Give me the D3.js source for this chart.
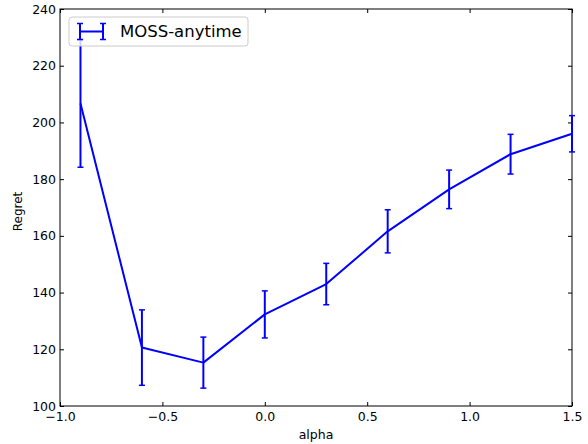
<!DOCTYPE html>
<html>
<head>
<meta charset="utf-8">
<script src="https://cdn.jsdelivr.net/npm/d3@7"></script>
<style>
  body { margin: 0; background: #fff; }
  text { font-family: "DejaVu Sans", sans-serif; fill: #000; }
</style>
</head>
<body>
<script>
//data
const alphas = [-0.9, -0.6, -0.3, 0.0, 0.3, 0.6, 0.9, 1.2, 1.5]
const regret = [206.7, 120.6, 115.3, 132.3, 143.0, 161.6, 176.4, 188.8, 196.0]
const regretErr = [22.5, 13.3, 9.0, 8.3, 7.3, 7.6, 6.8, 7.0, 6.4]
const xTicks = [-1.0, -0.5, 0.0, 0.5, 1.0, 1.5]
const yTicks = [100, 120, 140, 160, 180, 200, 220, 240]
const seriesName = 'MOSS-anytime'

const data = alphas.map((a, i) => ({ a, v: regret[i], e: regretErr[i] }))

const width = 588
const height = 444
const margin = { top: 9, right: 16, bottom: 38, left: 60 }
const innerWidth = width - margin.left - margin.right
const innerHeight = height - margin.top - margin.bottom
const blue = '#0000ff'

const svg = d3.select('body').append('svg')
  .attr('width', width)
  .attr('height', height)

const g = svg.append('g')
  .attr('transform', `translate(${margin.left},${margin.top})`)

//=================SCALES===================
const xScale = d3.scaleLinear().domain([-1.0, 1.5]).range([0, innerWidth])
const yScale = d3.scaleLinear().domain([100, 240]).range([innerHeight, 0])

//matplotlib style minus sign
const fmtX = d => d3.format('.1f')(d).replace('-', '\u2212')

//================= AXES (ticks inside, all four sides) =====================
const tickLen = 4
const xAxisB = d3.axisBottom(xScale).tickValues(xTicks).tickFormat(fmtX)
  .tickSizeInner(-tickLen).tickSizeOuter(0).tickPadding(6)
const xAxisT = d3.axisTop(xScale).tickValues(xTicks)
  .tickSizeInner(-tickLen).tickSizeOuter(0)
const yAxisL = d3.axisLeft(yScale).tickValues(yTicks).tickFormat(d3.format('d'))
  .tickSizeInner(-tickLen).tickSizeOuter(0).tickPadding(4)
const yAxisR = d3.axisRight(yScale).tickValues(yTicks)
  .tickSizeInner(-tickLen).tickSizeOuter(0)

const labelled = [
  g.append('g').attr('transform', `translate(0,${innerHeight})`).call(xAxisB),
  g.append('g').call(yAxisL)
]
const bare = [
  g.append('g').call(xAxisT),
  g.append('g').attr('transform', `translate(${innerWidth},0)`).call(yAxisR)
]
//top and right axes only keep their tick marks
bare.forEach(ax => ax.selectAll('.tick text').remove())

labelled.concat(bare).forEach(ax => {
  ax.select('.domain').remove()
  ax.selectAll('.tick line').attr('stroke', '#000').attr('stroke-width', 1)
  ax.selectAll('.tick text')
    .style('font-family', '"DejaVu Sans", sans-serif')
    .style('font-size', '12.5px')
    .attr('fill', '#000')
})

//frame
g.append('rect')
  .attr('width', innerWidth)
  .attr('height', innerHeight)
  .attr('fill', 'none')
  .attr('stroke', '#000')
  .attr('stroke-width', 1)

//axis labels
g.append('text')
  .text('alpha')
  .attr('x', innerWidth / 2)
  .attr('y', innerHeight + 33)
  .attr('text-anchor', 'middle')
  .style('font-size', '12.5px')

g.append('text')
  .text('Regret')
  .attr('transform', `translate(${-38},${innerHeight / 2 + 4}) rotate(-90)`)
  .attr('text-anchor', 'middle')
  .style('font-size', '12px')

//=================== DATA ==================
const line = d3.line()
  .x(d => xScale(d.a))
  .y(d => yScale(d.v))

g.append('path')
  .datum(data)
  .attr('d', line)
  .attr('fill', 'none')
  .attr('stroke', blue)
  .attr('stroke-width', 2)
  .attr('stroke-linejoin', 'round')

//error bars
const capHalf = 3
const bars = g.selectAll('.err')
  .data(data)
  .enter()
  .append('g')
  .attr('class', 'err')

bars.append('line')
  .attr('x1', d => xScale(d.a))
  .attr('x2', d => xScale(d.a))
  .attr('y1', d => yScale(d.v - d.e))
  .attr('y2', d => yScale(d.v + d.e))
  .attr('stroke', blue)
  .attr('stroke-width', 2)

bars.selectAll('.cap')
  .data(d => [[d.a, d.v - d.e], [d.a, d.v + d.e]])
  .enter()
  .append('line')
  .attr('class', 'cap')
  .attr('x1', d => xScale(d[0]) - capHalf)
  .attr('x2', d => xScale(d[0]) + capHalf)
  .attr('y1', d => yScale(d[1]))
  .attr('y2', d => yScale(d[1]))
  .attr('stroke', blue)
  .attr('stroke-width', 1.5)

//=================== LEGEND ==================
const legend = g.append('g')
  .attr('transform', 'translate(9,8)')

legend.append('rect')
  .attr('width', 179)
  .attr('height', 29)
  .attr('rx', 3)
  .attr('fill', '#fff')
  .attr('fill-opacity', 0.8)
  .attr('stroke', '#ccc')
  .attr('stroke-width', 1)

const hy = 14.5
legend.append('line')
  .attr('x1', 11).attr('x2', 34)
  .attr('y1', hy).attr('y2', hy)
  .attr('stroke', blue).attr('stroke-width', 2)
;[11, 34].forEach(x => {
  legend.append('line')
    .attr('x1', x).attr('x2', x)
    .attr('y1', hy - 8).attr('y2', hy + 8)
    .attr('stroke', blue).attr('stroke-width', 2)
  legend.append('line')
    .attr('x1', x - capHalf).attr('x2', x + capHalf)
    .attr('y1', hy - 8).attr('y2', hy - 8)
    .attr('stroke', blue).attr('stroke-width', 1.5)
  legend.append('line')
    .attr('x1', x - capHalf).attr('x2', x + capHalf)
    .attr('y1', hy + 8).attr('y2', hy + 8)
    .attr('stroke', blue).attr('stroke-width', 1.5)
})

legend.append('text')
  .text(seriesName)
  .attr('x', 51)
  .attr('y', hy)
  .attr('dy', '0.36em')
  .style('font-size', '16.5px')
</script>
</body>
</html>
